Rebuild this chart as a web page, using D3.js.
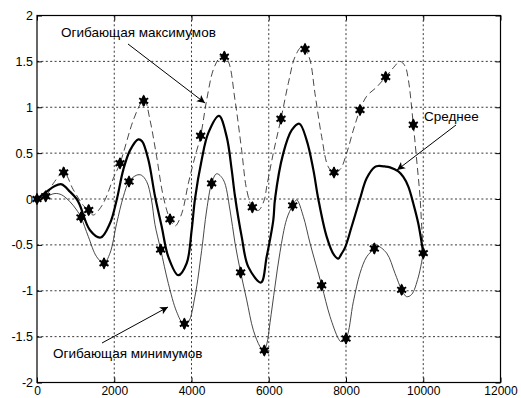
<!DOCTYPE html>
<html>
<head>
<meta charset="utf-8">
<script src="https://cdn.jsdelivr.net/npm/d3@7"></script>
<style>
  html, body { margin: 0; padding: 0; background: #fff; }
  svg { display: block; font-family: "Liberation Sans", Arial, sans-serif; }
</style>
</head>
<body>
<svg id="chart" width="521" height="398"></svg>
<script>
// Upper envelope (dashed), sampled along the curve
const upperX = [0, 225, 423, 690, 941, 1200, 1338, 1458, 1600, 1760, 1976, 2149, 2494, 2700, 2785, 2926, 3098, 3271, 3443, 3573, 3746, 3918, 4090, 4237, 4393, 4565, 4738, 4810, 4953, 5126, 5299, 5429, 5575, 5730, 5885, 5946, 6118, 6317, 6506, 6680, 6853, 6939, 7068, 7197, 7370, 7542, 7689, 7845, 8018, 8189, 8362, 8535, 8794, 9027, 9225, 9398, 9527, 9614, 9743, 9830, 9916, 9960, 10000];
const upperY = [0, 0.03, 0.17, 0.29, 0.10, -0.07, -0.13, -0.175, -0.12, -0.01, 0.225, 0.39, 0.86, 1.05, 1.08, 0.86, 0.46, 0.025, -0.22, -0.295, -0.16, 0.17, 0.46, 0.69, 1.08, 1.41, 1.55, 1.57, 1.50, 1.08, 0.53, 0.10, -0.09, -0.125, -0.01, 0.13, 0.50, 0.875, 1.26, 1.55, 1.66, 1.635, 1.515, 1.15, 0.68, 0.35, 0.29, 0.32, 0.50, 0.75, 0.97, 1.12, 1.22, 1.33, 1.43, 1.50, 1.45, 1.30, 0.81, 0.425, 0.025, -0.30, -0.59];

// Lower envelope (thin solid)
const lowerX = [0, 225, 466, 639, 854, 1027, 1139, 1329, 1545, 1735, 1890, 2063, 2235, 2382, 2581, 2700, 2839, 2960, 3055, 3202, 3400, 3616, 3790, 3918, 4090, 4263, 4393, 4522, 4650, 4824, 4997, 5126, 5273, 5429, 5601, 5774, 5870, 5950, 6032, 6162, 6291, 6463, 6620, 6723, 6895, 7068, 7370, 7586, 7801, 7870, 8000, 8190, 8362, 8535, 8733, 8800, 9053, 9269, 9441, 9571, 9700, 9873, 10000];
const lowerY = [0, 0.025, 0.06, 0.045, -0.03, -0.12, -0.2, -0.41, -0.63, -0.70, -0.59, -0.265, 0.025, 0.19, 0.26, 0.26, 0.19, 0.0, -0.28, -0.55, -0.92, -1.23, -1.36, -1.34, -1.06, -0.56, -0.12, 0.17, 0.275, 0.21, -0.12, -0.48, -0.80, -1.10, -1.43, -1.61, -1.66, -1.58, -1.35, -0.95, -0.58, -0.22, -0.07, -0.01, -0.19, -0.48, -0.94, -1.28, -1.52, -1.555, -1.52, -1.12, -0.81, -0.63, -0.54, -0.51, -0.59, -0.81, -0.99, -1.065, -1.04, -0.85, -0.59];

// Mean of the envelopes (thick solid)
const meanX = [0, 250, 450, 639, 854, 1027, 1113, 1372, 1649, 1890, 2063, 2235, 2408, 2623, 2720, 2882, 3055, 3228, 3400, 3659, 3875, 4004, 4090, 4263, 4436, 4712, 4910, 5040, 5126, 5299, 5471, 5800, 5946, 6118, 6162, 6377, 6594, 6792, 6982, 7154, 7283, 7499, 7689, 7801, 7880, 7975, 8147, 8362, 8535, 8751, 8850, 9000, 9139, 9355, 9484, 9614, 9743, 9873, 10000];
const meanY = [0, 0.08, 0.14, 0.16, 0.08, 0.0, -0.07, -0.34, -0.42, -0.265, -0.01, 0.32, 0.53, 0.65, 0.63, 0.43, 0.03, -0.30, -0.63, -0.83, -0.70, -0.34, 0.0, 0.425, 0.72, 0.905, 0.68, 0.32, 0.03, -0.41, -0.74, -0.91, -0.63, -0.23, 0.0, 0.50, 0.75, 0.82, 0.64, 0.32, 0.0, -0.41, -0.61, -0.65, -0.60, -0.53, -0.30, 0.0, 0.225, 0.35, 0.36, 0.355, 0.345, 0.30, 0.24, 0.135, -0.05, -0.27, -0.59];

// Local maxima of the signal (upper envelope knots)
const maxX = [0, 225, 690, 1338, 2149, 2762, 3443, 4237, 4850, 5575, 6317, 6939, 7689, 8362, 9027, 9743, 10000];
const maxY = [0, 0.03, 0.29, -0.12, 0.39, 1.07, -0.22, 0.69, 1.55, -0.09, 0.875, 1.635, 0.29, 0.97, 1.33, 0.81, -0.59];

// Local minima of the signal (lower envelope knots)
const minX = [1139, 1735, 2382, 3202, 3815, 4522, 5273, 5885, 6620, 7370, 8000, 8733, 9441];
const minY = [-0.2, -0.70, 0.19, -0.55, -1.36, 0.17, -0.80, -1.65, -0.07, -0.94, -1.52, -0.54, -0.99];

const xTicks = [0, 2000, 4000, 6000, 8000, 10000, 12000];
const yTicks = [-2, -1.5, -1, -0.5, 0, 0.5, 1, 1.5, 2];

const svg = d3.select("#chart");
const plotL = 37, plotR = 500.5, plotT = 15.5, plotB = 382.5;

const x = d3.scaleLinear().domain([0, 12000]).range([plotL, plotR]);
const y = d3.scaleLinear().domain([-2, 2]).range([plotB, plotT]);

// dotted grid
const grid = svg.append("g").attr("stroke", "#222").attr("stroke-width", 0.9)
  .attr("stroke-dasharray", "2,2.4");
xTicks.slice(1, -1).forEach(t => {
  grid.append("line").attr("x1", x(t)).attr("x2", x(t)).attr("y1", plotT).attr("y2", plotB);
});
yTicks.slice(1, -1).forEach(t => {
  grid.append("line").attr("y1", y(t)).attr("y2", y(t)).attr("x1", plotL).attr("x2", plotR);
});

// axes with inward ticks
const fmt = d => String(d);
const axB = svg.append("g").attr("transform", `translate(0,${plotB})`)
  .call(d3.axisBottom(x).tickValues(xTicks).tickFormat(fmt).tickSize(-5).tickPadding(4));
svg.append("g").attr("transform", `translate(${plotL},0)`)
  .call(d3.axisLeft(y).tickValues(yTicks).tickFormat(fmt).tickSize(-5).tickPadding(4));
svg.append("g").attr("transform", `translate(0,${plotT})`)
  .call(d3.axisTop(x).tickValues(xTicks).tickFormat("").tickSize(-5));
svg.append("g").attr("transform", `translate(${plotR},0)`)
  .call(d3.axisRight(y).tickValues(yTicks).tickFormat("").tickSize(-5));
svg.selectAll(".domain").remove();
svg.selectAll(".tick line").attr("stroke", "#000");
svg.selectAll(".tick text").attr("font-size", 12.5).attr("fill", "#000")
  .attr("font-family", "Liberation Sans, Arial, sans-serif");
axB.selectAll(".tick text").attr("font-size", 12);

svg.append("rect").attr("x", plotL).attr("y", plotT)
  .attr("width", plotR - plotL).attr("height", plotB - plotT)
  .attr("fill", "none").attr("stroke", "#000").attr("stroke-width", 1.2);

const line = d3.line().x(d => x(d[0])).y(d => y(d[1])).curve(d3.curveCatmullRom.alpha(0.5));
const zip = (a, b) => a.map((v, i) => [v, b[i]]);

svg.append("path").datum(zip(lowerX, lowerY)).attr("d", line)
  .attr("fill", "none").attr("stroke", "#333").attr("stroke-width", 0.9);
svg.append("path").datum(zip(upperX, upperY)).attr("d", line)
  .attr("fill", "none").attr("stroke", "#333").attr("stroke-width", 0.9)
  .attr("stroke-dasharray", "7,4");
svg.append("path").datum(zip(meanX, meanY)).attr("d", line)
  .attr("fill", "none").attr("stroke", "#000").attr("stroke-width", 2.2);

// extrema markers
const star = d3.symbol().type(d3.symbolAsterisk).size(75);
const diamond = d3.symbol().type(d3.symbolDiamond).size(45);
const pts = zip(maxX, maxY).concat(zip(minX, minY));
const mk = svg.append("g");
pts.forEach(p => {
  const g = mk.append("g").attr("transform", `translate(${x(p[0])},${y(p[1])})`);
  g.append("path").attr("d", star()).attr("stroke", "#000").attr("stroke-width", 2).attr("fill", "none");
  g.append("path").attr("d", diamond()).attr("fill", "#000");
});

// annotations
const defs = svg.append("defs");
defs.append("marker").attr("id", "ah").attr("viewBox", "0 0 10 10")
  .attr("refX", 10).attr("refY", 5).attr("markerWidth", 11).attr("markerHeight", 8)
  .attr("markerUnits", "userSpaceOnUse").attr("orient", "auto")
  .append("path").attr("d", "M0,0L10,5L0,10L2.5,5Z").attr("fill", "#000");

const notes = [
  { text: "Огибающая максимумов", tx: 61, ty: 37, x1: 128, y1: 44, x2: 205, y2: 103 },
  { text: "Среднее", tx: 424, ty: 121, x1: 456, y1: 125, x2: 397, y2: 170 },
  { text: "Огибающая минимумов", tx: 53, ty: 358, x1: 102, y1: 343, x2: 168, y2: 307 }
];
notes.forEach(n => {
  svg.append("text").attr("x", n.tx).attr("y", n.ty).attr("font-size", 13.5)
    .attr("fill", "#000").text(n.text);
  svg.append("line").attr("x1", n.x1).attr("y1", n.y1).attr("x2", n.x2).attr("y2", n.y2)
    .attr("stroke", "#000").attr("stroke-width", 1).attr("marker-end", "url(#ah)");
});
</script>
</body>
</html>
